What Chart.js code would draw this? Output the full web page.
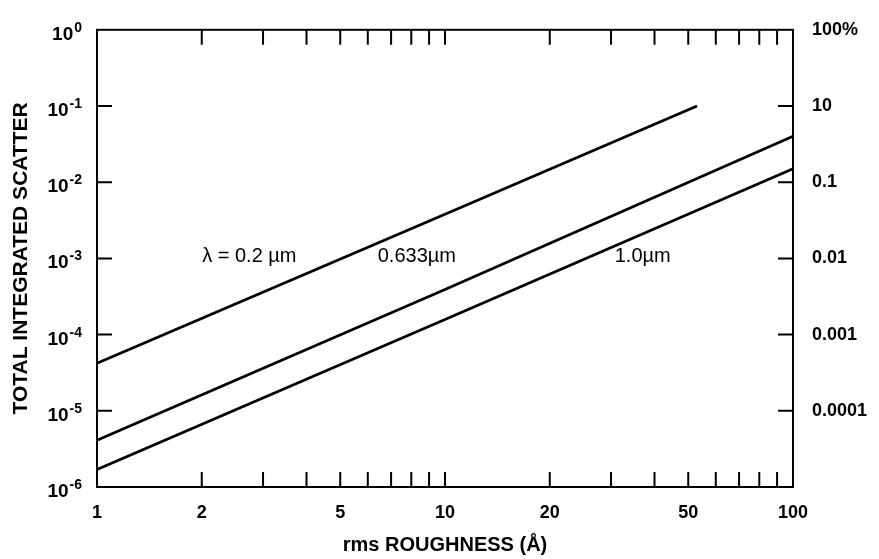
<!DOCTYPE html>
<html>
<head>
<meta charset="utf-8">
<script src="https://cdn.jsdelivr.net/npm/chart.js@4/dist/chart.umd.min.js"></script>
<style>
html,body{margin:0;padding:0;background:#fff;}
canvas{display:block;}
</style>
</head>
<body>
<canvas id="c" width="879" height="559"></canvas>
<script>
// ---- data ----
const roughness02 = [1, 10, 53];
const tis02 = [4.2e-5, 3.8e-3, 0.1];
const roughness0633 = [1, 10, 100];
const tis0633 = [4.1e-6, 3.9e-4, 0.04];
const roughness10 = [1, 10, 100];
const tis10 = [1.7e-6, 1.58e-4, 0.015];

const xTickValues = [1, 2, 5, 10, 20, 50, 100];
const xTickLabels = ['1', '2', '5', '10', '20', '50', '100'];
const xMinorTicks = [2, 3, 4, 5, 6, 7, 8, 9, 10, 20, 30, 40, 50, 60, 70, 80, 90];
const yDecades = [1, 1e-1, 1e-2, 1e-3, 1e-4, 1e-5, 1e-6];
const yLeftExponents = ['0', '-1', '-2', '-3', '-4', '-5', '-6'];
const yRightLabels = ['100%', '10', '0.1', '0.01', '0.001', '0.0001', ''];

const curveLabels = ['\u03bb = 0.2 \u00b5m', '0.633\u00b5m', '1.0\u00b5m'];
const curveLabelX = [2.74, 8.3, 37];
const curveLabelY = [1.05e-3, 1.05e-3, 1.05e-3];

const yTitle = 'TOTAL INTEGRATED SCATTER';
const xTitle = 'rms ROUGHNESS (\u00c5)';

const FONT = '"Liberation Sans", Arial, Helvetica, sans-serif';
Chart.defaults.font.family = FONT;
Chart.defaults.color = '#000';

const toPts = (xs, ys) => xs.map((v, i) => ({x: v, y: ys[i]}));

const TICK = 15;
const framePlugin = {
  id: 'frame',
  afterDraw(chart) {
    const {ctx, chartArea: a, scales: {x, y}} = chart;
    ctx.save();
    ctx.strokeStyle = '#000';
    ctx.lineWidth = 2;
    ctx.strokeRect(a.left, a.top, a.right - a.left, a.bottom - a.top);
    ctx.beginPath();
    yDecades.slice(1, -1).forEach(v => {
      const py = y.getPixelForValue(v);
      ctx.moveTo(a.left, py); ctx.lineTo(a.left + TICK, py);
      ctx.moveTo(a.right, py); ctx.lineTo(a.right - TICK, py);
    });
    xMinorTicks.forEach(v => {
      const px = x.getPixelForValue(v);
      ctx.moveTo(px, a.bottom); ctx.lineTo(px, a.bottom - TICK);
      ctx.moveTo(px, a.top); ctx.lineTo(px, a.top + TICK);
    });
    ctx.stroke();

    // left decade labels with superscripts
    ctx.fillStyle = '#000';
    ctx.textAlign = 'right';
    ctx.textBaseline = 'alphabetic';
    const rightEdge = 82;
    yDecades.forEach((v, i) => {
      const py = y.getPixelForValue(v);
      ctx.font = 'bold 14px ' + FONT;
      const exp = yLeftExponents[i];
      const ew = ctx.measureText(exp).width;
      ctx.fillText(exp, rightEdge, py + 2);
      ctx.font = 'bold 19px ' + FONT;
      ctx.fillText('10', rightEdge - ew - 1, py + 10);
    });

    // curve labels
    ctx.font = '20px ' + FONT;
    ctx.textAlign = 'center';
    ctx.textBaseline = 'middle';
    curveLabels.forEach((t, i) => {
      ctx.fillText(t, x.getPixelForValue(curveLabelX[i]), y.getPixelForValue(curveLabelY[i]));
    });
    ctx.restore();
  }
};

const lineStyle = {borderColor: '#000', borderWidth: 2.8, pointRadius: 0, tension: 0, fill: false};

new Chart(document.getElementById('c'), {
  type: 'line',
  data: {
    datasets: [
      Object.assign({label: '0.2 \u00b5m', data: toPts(roughness02, tis02)}, lineStyle),
      Object.assign({label: '0.633 \u00b5m', data: toPts(roughness0633, tis0633)}, lineStyle),
      Object.assign({label: '1.0 \u00b5m', data: toPts(roughness10, tis10)}, lineStyle)
    ]
  },
  options: {
    responsive: false,
    animation: false,
    layout: {padding: {top: 26, left: 0, right: 0, bottom: 0}},
    plugins: {legend: {display: false}, tooltip: {enabled: false}},
    scales: {
      x: {
        type: 'logarithmic', min: 1, max: 100, position: 'bottom',
        grid: {display: false, drawTicks: false},
        border: {display: false},
        afterBuildTicks: s => { s.ticks = xTickValues.map(v => ({value: v})); },
        afterFit: s => { s.height = 72; },
        ticks: {
          padding: 15, maxRotation: 0, autoSkip: false,
          font: {size: 18, weight: 'bold'},
          callback: (v) => { const i = xTickValues.indexOf(v); return i >= 0 ? xTickLabels[i] : ''; }
        },
        title: {display: true, text: xTitle, font: {size: 20, weight: 'bold'}, padding: {top: 0, bottom: 2}}
      },
      y: {
        type: 'logarithmic', min: 1e-6, max: 1, position: 'left',
        grid: {display: false, drawTicks: false},
        border: {display: false},
        ticks: {display: false},
        afterFit: s => { s.width = 97; },
        title: {display: true, text: yTitle, font: {size: 21, weight: 'bold'}, padding: {top: 9, bottom: 0}}
      },
      y2: {
        type: 'logarithmic', min: 1e-6, max: 1, position: 'right',
        grid: {display: false, drawTicks: false},
        border: {display: false},
        afterBuildTicks: s => { s.ticks = yDecades.map(v => ({value: v})); },
        afterFit: s => { s.width = 86; },
        ticks: {
          padding: 19, autoSkip: false,
          font: {size: 18, weight: 'bold'},
          callback: (v) => {
            const i = yDecades.findIndex(d => Math.abs(Math.log10(d) - Math.log10(v)) < 1e-6);
            return i >= 0 ? yRightLabels[i] : '';
          }
        }
      }
    }
  },
  plugins: [framePlugin]
});
</script>
</body>
</html>
